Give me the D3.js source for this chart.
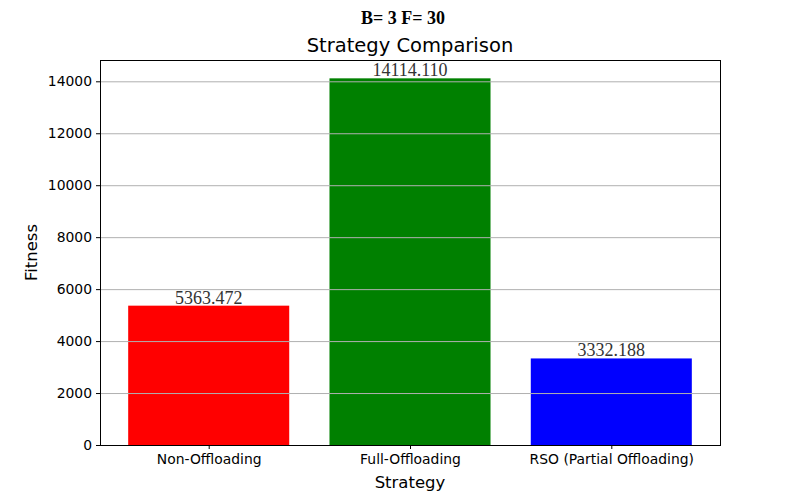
<!DOCTYPE html>
<html>
<head>
<meta charset="utf-8">
<script src="https://cdn.jsdelivr.net/npm/d3@7"></script>
<style>
  body { margin: 0; background: #fff; }
  svg { display: block; }
</style>
</head>
<body>
<svg id="chart" width="800" height="500"></svg>
<script>
// chart data
const strategies = ["Non-Offloading", "Full-Offloading", "RSO (Partial Offloading)"];
const fitness = [5363.472, 14114.110, 3332.188];
const barColors = ["#ff0000", "#008000", "#0000ff"];
const yTicks = [0, 2000, 4000, 6000, 8000, 10000, 12000, 14000];

const width = 800, height = 500;
const margin = { top: 60, right: 80, bottom: 55, left: 100 };
const plotW = width - margin.left - margin.right;
const plotH = height - margin.top - margin.bottom;

const svg = d3.select("#chart");
const g = svg.append("g").attr("transform", "translate(" + margin.left + "," + margin.top + ")");

// matplotlib-like limits: categories at 0..n-1, bar width 0.8, 5% margins
const n = strategies.length;
const xLo = -0.4 - 0.05 * (n - 1 + 0.8), xHi = n - 1 + 0.4 + 0.05 * (n - 1 + 0.8);
const x = d3.scaleLinear().domain([xLo, xHi]).range([0, plotW]);
const y = d3.scaleLinear().domain([0, d3.max(fitness) * 1.05]).range([plotH, 0]);

// bars
g.selectAll("rect.bar")
  .data(fitness)
  .enter().append("rect")
  .attr("class", "bar")
  .attr("x", (d, i) => x(i - 0.4))
  .attr("width", (d, i) => x(i + 0.4) - x(i - 0.4))
  .attr("y", d => y(d))
  .attr("height", d => plotH - y(d))
  .attr("fill", (d, i) => barColors[i]);

// horizontal grid (drawn above bars)
g.selectAll("line.grid")
  .data(yTicks)
  .enter().append("line")
  .attr("class", "grid")
  .attr("x1", 0).attr("x2", plotW)
  .attr("y1", d => y(d) + 0.5).attr("y2", d => y(d) + 0.5)
  .attr("stroke", "#b0b0b0")
  .attr("stroke-width", 1);

// value labels
g.selectAll("text.val")
  .data(fitness)
  .enter().append("text")
  .attr("class", "val")
  .attr("x", (d, i) => x(i))
  .attr("y", d => y(d) - 2)
  .attr("text-anchor", "middle")
  .attr("font-family", "'Liberation Serif', 'DejaVu Serif', serif")
  .attr("font-size", 18)
  .attr("fill", "#333")
  .text(d => d.toFixed(3));

// axes
const yAxis = d3.axisLeft(y).tickValues(yTicks).tickSize(4).tickPadding(4).tickFormat(d3.format("d"));
const xAxis = d3.axisBottom(x).tickValues(d3.range(n)).tickSize(4).tickPadding(5).tickFormat(i => strategies[i]);

const gy = g.append("g").call(yAxis);
const gx = g.append("g").attr("transform", "translate(0," + plotH + ")").call(xAxis);
[gx, gy].forEach(a => {
  a.select(".domain").remove();
  a.selectAll("text").attr("font-family", "'DejaVu Sans', sans-serif").attr("font-size", 13.9).attr("fill", "#000");
  a.selectAll("line").attr("stroke", "#000");
});

// frame
g.append("rect")
  .attr("x", 0.5).attr("y", 0.5)
  .attr("width", plotW).attr("height", plotH)
  .attr("fill", "none").attr("stroke", "#000").attr("stroke-width", 1);

// titles
svg.append("text")
  .attr("x", width / 2 + 3).attr("y", 24)
  .attr("text-anchor", "middle")
  .attr("font-family", "'Liberation Serif', 'DejaVu Serif', serif")
  .attr("font-weight", "bold")
  .attr("font-size", 18)
  .attr("fill", "#000")
  .text("B= 3 F= 30");

svg.append("text")
  .attr("x", margin.left + plotW / 2).attr("y", 52)
  .attr("text-anchor", "middle")
  .attr("font-family", "'DejaVu Sans', sans-serif")
  .attr("font-size", 19.5)
  .text("Strategy Comparison");

svg.append("text")
  .attr("x", margin.left + plotW / 2).attr("y", 488)
  .attr("text-anchor", "middle")
  .attr("font-family", "'DejaVu Sans', sans-serif")
  .attr("font-size", 16.5)
  .text("Strategy");

svg.append("text")
  .attr("transform", "translate(37," + (margin.top + plotH / 2) + ") rotate(-90)")
  .attr("text-anchor", "middle")
  .attr("font-family", "'DejaVu Sans', sans-serif")
  .attr("font-size", 16.5)
  .text("Fitness");
</script>
</body>
</html>
